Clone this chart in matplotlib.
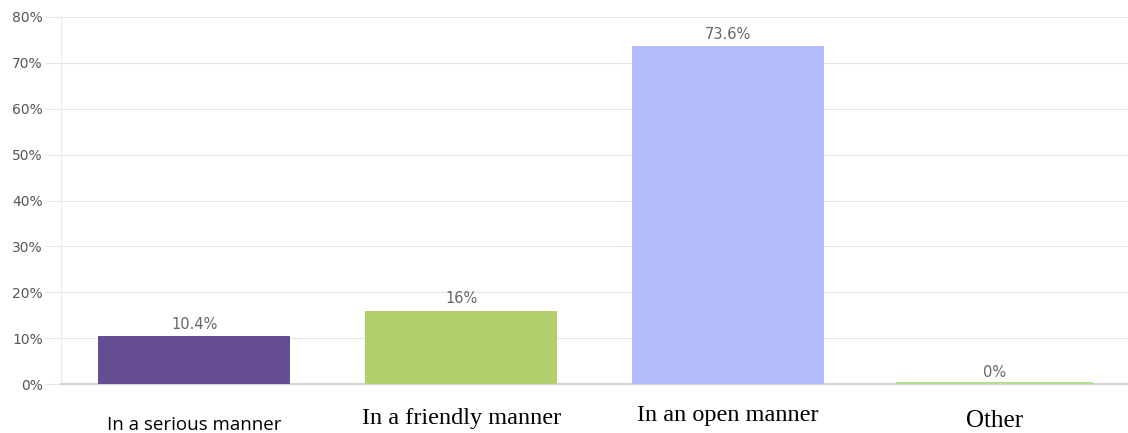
import matplotlib.pyplot as plt
from matplotlib.ticker import FuncFormatter
import matplotlib.transforms as mtransforms

# Survey answers and their shares (percent)
categories = ['In a serious manner', 'In a friendly manner', 'In an open manner', 'Other']
shares = [10.4, 16, 73.6, 0]
value_labels = ['10.4%', '16%', '73.6%', '0%']
bar_colors = ['#654e94', '#b1cf6b', '#b3bcf8', '#b5de8c']
yticks = [0, 10, 20, 30, 40, 50, 60, 70, 80]

# label fonts differ between categories
label_fonts = ['Open Sans', 'Liberation Serif', 'Liberation Serif', 'Liberation Serif']
label_sizes = [13.5, 17.5, 17.5, 18]
label_base_px = [430, 424, 421, 427]

W, H = 1128, 433
fig = plt.figure(figsize=(W / 100, H / 100), dpi=100)
ax = fig.add_axes([61 / W, 1 - 384 / H, 1 - 61 / W, (384 - 17) / H])

x = list(range(len(categories)))
ax.bar(x, shares, width=0.72, color=bar_colors, zorder=3)
# the zero bar still shows as a thin line
ax.bar(x[3], 0.35, width=0.74, color=bar_colors[3], zorder=3)

for xi, v, lab in zip(x, shares, value_labels):
    ax.annotate(lab, (xi, v), xytext=(0, 3), textcoords='offset points',
                ha='center', va='bottom', fontsize=10.5, color='#666666',
                family='DejaVu Sans')

ax.set_xlim(-0.5, 3.5)
ax.set_ylim(0, 80)
ax.set_yticks(yticks)
ax.yaxis.set_major_formatter(FuncFormatter(lambda v, p: f'{v:.0f}%'))
ax.tick_params(axis='y', length=11.5, width=0.8, color='#e6e6e6', pad=1.5,
               labelsize=10, labelcolor='#555555')
for t in ax.get_yticklabels():
    t.set_family('DejaVu Sans')
ax.set_xticks([])
ax.grid(axis='y', color='#e6e6e6', linewidth=0.8, zorder=0)

for side in ['top', 'right']:
    ax.spines[side].set_visible(False)
ax.spines['left'].set_color('#ebebeb')
ax.spines['bottom'].set_color('#cccccc')
ax.spines['bottom'].set_linewidth(1.2)

# category names below the axis
trans = mtransforms.blended_transform_factory(ax.transData, fig.transFigure)
for xi, name, fam, fs, ypx in zip(x, categories, label_fonts, label_sizes, label_base_px):
    ax.text(xi, 1 - ypx / H, name, transform=trans, ha='center', va='baseline',
            family=fam, fontsize=fs, color='black')

fig.savefig('out.png', dpi=100)
